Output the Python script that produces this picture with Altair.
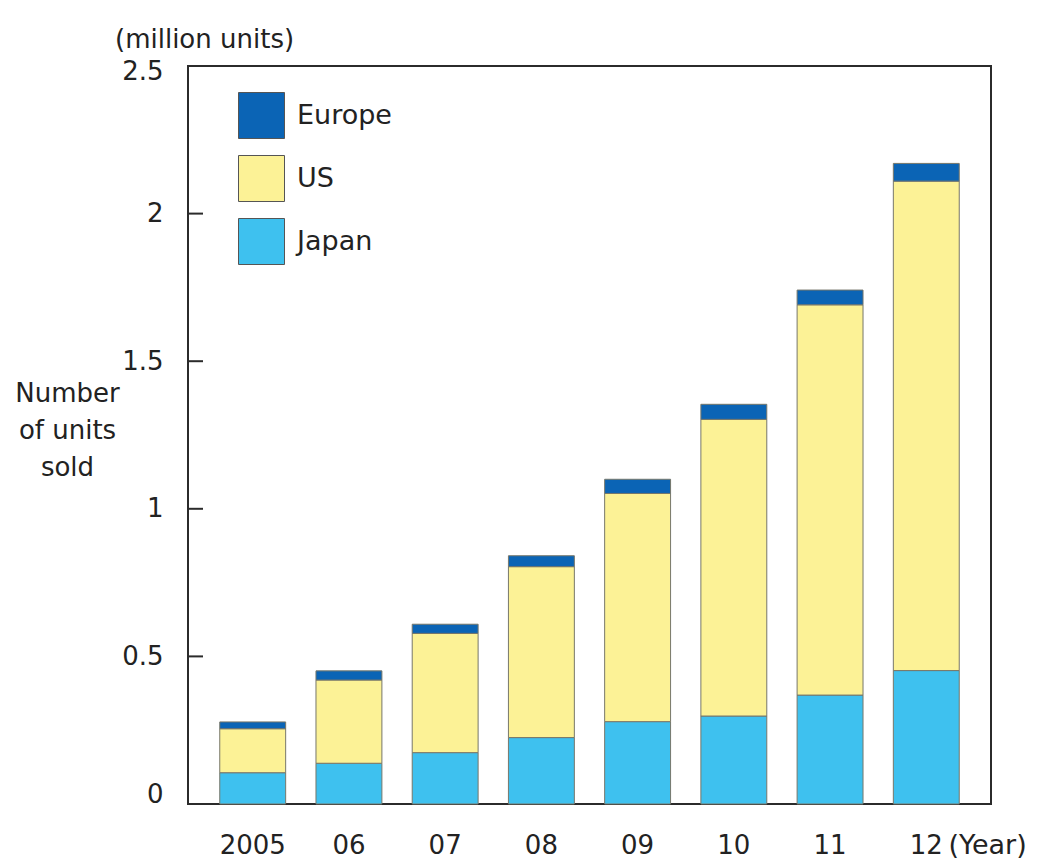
import altair as alt
import pandas as pd

# ---- data ----
years = ["2005", "06", "07", "08", "09", "10", "11", "12"]
japan = [0.106, 0.138, 0.174, 0.225, 0.279, 0.298, 0.369, 0.452]
us = [0.149, 0.282, 0.404, 0.579, 0.773, 1.005, 1.322, 1.658]
europe = [0.023, 0.031, 0.031, 0.037, 0.048, 0.051, 0.050, 0.060]

regions = ["Europe", "US", "Japan"]
region_colors = ["#0b64b5", "#fcf296", "#3ec1ef"]
stack_rank = {"Japan": 0, "US": 1, "Europe": 2}
y_tick_values = [0, 0.5, 1, 1.5, 2, 2.5]
inner_tick_values = [0.5, 1, 1.5, 2]

rows = []
for name, series in (("Japan", japan), ("US", us), ("Europe", europe)):
    for yr, v in zip(years, series):
        rows.append({"year": yr, "region": name, "value": v, "rank": stack_rank[name]})
df = pd.DataFrame(rows)
ticks_df = pd.DataFrame({"value": inner_tick_values})

FONT = "DejaVu Sans"
TXT = "#222222"

y_axis = alt.Axis(
    values=y_tick_values,
    format="~g",
    grid=False,
    ticks=False,
    domain=False,
    labelPadding=25,
    labelFontSize=26,
    labelColor=TXT,
    labelFont=FONT,
    labelOffset={
        "condition": [
            {"test": "datum.value == 0", "value": -10},
            {"test": "datum.value == 2.5", "value": 5},
        ],
        "value": 0,
    },
    title=["Number", "of units", "sold"],
    titleAngle=0,
    titleAlign="center",
    titleBaseline="top",
    titleX=-121,
    titleY=314,
    titleLineHeight=37,
    titleFontSize=26,
    titleFontWeight="normal",
    titleColor=TXT,
    titleFont=FONT,
)

bars = alt.Chart(df).mark_bar(stroke="#77776a", strokeWidth=1).encode(
    x=alt.X(
        "year:N",
        sort=years,
        scale=alt.Scale(paddingInner=0.315, paddingOuter=0.33),
        axis=alt.Axis(
            title="(Year)",
            titleX=760,
            titleY=28,
            titleAlign="left",
            titleBaseline="top",
            titleAngle=0,
            titleFontSize=27,
            titleFontWeight="normal",
            titleColor=TXT,
            titleFont=FONT,
            labelAngle=0,
            labelPadding=28,
            labelFontSize=26,
            labelColor=TXT,
            labelFont=FONT,
            ticks=False,
            domain=False,
        ),
    ),
    y=alt.Y(
        "value:Q",
        stack="zero",
        scale=alt.Scale(domain=[0, 2.5], nice=False),
        axis=y_axis,
    ),
    color=alt.Color(
        "region:N",
        scale=alt.Scale(domain=regions, range=region_colors),
        legend=alt.Legend(
            title=None,
            orient="none",
            legendX=50,
            legendY=26,
            padding=0,
            symbolType="square",
            symbolSize=2116,
            symbolStrokeColor="#555555",
            symbolStrokeWidth=1,
            symbolOpacity=1,
            labelFontSize=27,
            labelFont=FONT,
            labelColor=TXT,
            labelOffset=12,
            rowPadding=12,
        ),
    ),
    order=alt.Order("rank:Q", sort="ascending"),
)

inner_ticks = alt.Chart(ticks_df).mark_rule(color="#2b2b2b", strokeWidth=2).encode(
    y=alt.Y("value:Q", axis=y_axis),
    x=alt.value(0),
    x2=alt.value(15),
)

chart = alt.layer(bars, inner_ticks).properties(
    width=803,
    height=738,
    title=alt.TitleParams(
        "(million units)",
        anchor="start",
        frame="group",
        dx=-73,
        dy=41,
        offset=20,
        baseline="bottom",
        fontSize=26,
        font=FONT,
        fontWeight="normal",
        color=TXT,
    ),
    autosize=alt.AutoSizeParams(type="none"),
    padding={"left": 188, "top": 66, "right": 54, "bottom": 58},
    background="white",
).configure_view(stroke="#2b2b2b", strokeWidth=2)

chart.save("out.html", embed_options={"renderer": "svg", "actions": False})
